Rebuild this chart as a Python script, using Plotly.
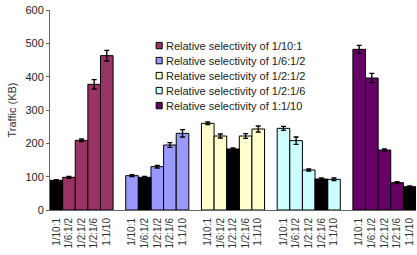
import plotly.graph_objects as go

settings = ["1/10:1", "1/6:1/2", "1/2:1/2", "1/2:1/6", "1:1/10"]
series_names = ["Relative selectivity of 1/10:1", "Relative selectivity of 1/6:1/2",
                "Relative selectivity of 1/2:1/2", "Relative selectivity of 1/2:1/6",
                "Relative selectivity of 1:1/10"]
colors = ["#993366", "#9999FF", "#FFFFCC", "#CCFFFF", "#660066"]

g1_vals = [89, 98, 209, 377, 463]
g2_vals = [103, 98, 130, 195, 230]
g3_vals = [260, 222, 183, 222, 243]
g4_vals = [245, 208, 120, 93, 92]
g5_vals = [482, 396, 180, 82, 70]
g1_err = [2, 3, 4, 14, 16]
g2_err = [3, 3, 4, 7, 11]
g3_err = [4, 6, 3, 7, 9]
g4_err = [6, 11, 3, 3, 4]
g5_err = [12, 14, 3, 3, 2]

values = [g1_vals, g2_vals, g3_vals, g4_vals, g5_vals]
errors = [g1_err, g2_err, g3_err, g4_err, g5_err]

fig = go.Figure()
tickvals, ticktext = [], []
for g in range(5):
    xs = [g * 6 + j for j in range(5)]
    tickvals += xs
    ticktext += settings
    idx = [j for j in range(5) if j != g]
    err_style = dict(thickness=1.3, width=2.5, color="black")
    fig.add_trace(go.Bar(
        x=[xs[j] for j in idx], y=[values[g][j] for j in idx],
        error_y=dict(type="data", array=[errors[g][j] for j in idx], **err_style),
        name=series_names[g], width=1, showlegend=False,
        marker=dict(color=colors[g], line=dict(color="black", width=1)),
    ))
    fig.add_trace(go.Bar(
        x=[xs[g]], y=[values[g][g]],
        error_y=dict(type="data", array=[errors[g][g]], **err_style),
        showlegend=False, width=1,
        marker=dict(color="black", line=dict(color="black", width=1)),
    ))

# compact legend (Excel style): small squares and labels
leg_x0, leg_y0, leg_dy = 0.290, 0.822, 0.075
for g in range(5):
    yc = leg_y0 - g * leg_dy
    fig.add_shape(type="rect", xref="paper", yref="paper",
                  x0=leg_x0, x1=leg_x0 + 0.0165, y0=yc - 0.016, y1=yc + 0.016,
                  fillcolor=colors[g], line=dict(color="black", width=1))
    fig.add_annotation(xref="paper", yref="paper", x=leg_x0 + 0.022, y=yc,
                       text=series_names[g], showarrow=False,
                       xanchor="left", yanchor="middle",
                       font=dict(size=11, color="#222"))

fig.update_layout(
    width=417, height=255,
    margin=dict(l=50, r=1, t=10, b=45, autoexpand=False),
    barmode="overlay",
    plot_bgcolor="white", paper_bgcolor="white",
    font=dict(family="Liberation Sans, Arial", size=11, color="#222"),
    showlegend=False,
)
fig.update_xaxes(
    range=[-0.5, 28.5], tickvals=tickvals, ticktext=ticktext, tickangle=-90,
    tickfont=dict(size=10, color="#333"), showgrid=False, zeroline=False,
    showline=True, linecolor="#666", linewidth=1, ticks="", automargin=False,
    ticklabelstandoff=3,
)
fig.update_yaxes(
    range=[0, 600], dtick=100, showgrid=False, zeroline=False,
    showline=True, linecolor="#666", linewidth=1, ticks="outside", ticklen=3,
    tickcolor="#666", tickfont=dict(size=11, color="#222"), automargin=False,
    title=dict(text="Traffic (KB)", font=dict(size=11, color="#333"), standoff=6),
)

fig.write_html("out.html", config={"displayModeBar": False},
               post_script="document.body.style.margin='0';")
